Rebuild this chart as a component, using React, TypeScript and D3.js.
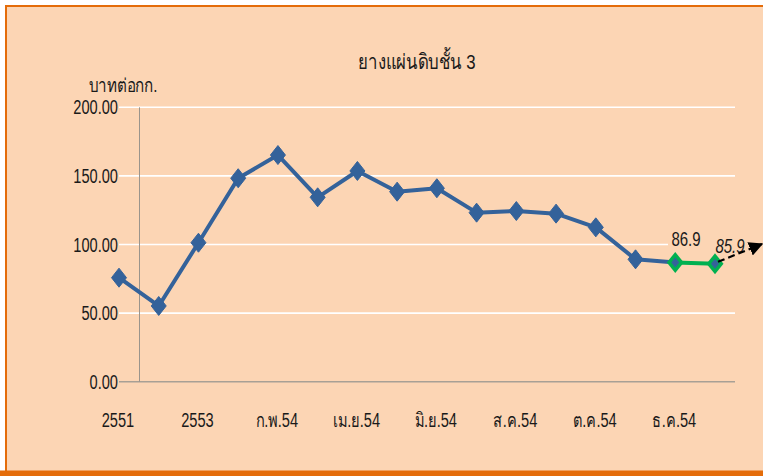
import React from "react";
import * as d3 from "d3";

const title = "ยางแผ่นดิบชั้น 3";
const yUnit = "บาทต่อกก.";
const categories = [
  "2551", "2552", "2553", "ม.ค.54", "ก.พ.54", "มี.ค.54", "เม.ย.54", "พ.ค.54",
  "มิ.ย.54", "ก.ค.54", "ส.ค.54", "ก.ย.54", "ต.ค.54", "พ.ย.54", "ธ.ค.54", "ม.ค.55",
];
const shownLabels = ["2551", "2553", "ก.พ.54", "เม.ย.54", "มิ.ย.54", "ส.ค.54", "ต.ค.54", "ธ.ค.54"];
const prices = [75.8, 55.2, 101.3, 148.3, 165.2, 134.4, 153.6, 138.5, 141.0, 123.2, 124.4, 122.5, 112.5, 89.2, 86.9, 85.9];
const highlightFrom = 14; // last two points in green
const yTicks = [0, 50, 100, 150, 200];

const W = 763;
const H = 476;
const BG = "#fcd5b4";
const ORANGE = "#e46c0a";
const BLUE = "#34629a";
const GREEN = "#00b050";
const FONT = "'Liberation Sans', Arial, sans-serif";
const SX = 0.75;

function NText(props: {
  x: number;
  y: number;
  anchor?: string;
  size: number;
  italic?: boolean;
  sx?: number;
  children: React.ReactNode;
}) {
  const s = props.sx ?? SX;
  return (
    <g transform={`translate(${props.x},${props.y}) scale(${s},1)`}>
      <text
        x={0}
        y={0}
        textAnchor={props.anchor ?? "start"}
        fontSize={props.size}
        fontStyle={props.italic ? "italic" : "normal"}
        fill="#1a1a1a"
      >
        {props.children}
      </text>
    </g>
  );
}

export default function App() {
  const x = d3.scalePoint<number>().domain(d3.range(categories.length)).range([119, 715]);
  const y = d3.scaleLinear().domain([0, 200]).range([381.7, 107.3]);
  const plotLeft = 119;
  const plotRight = 735;
  const axisX = 139.5;

  const line = d3
    .line<number>()
    .x((_, i) => x(i) as number)
    .y((d) => y(d));

  const bluePts = prices.slice(0, highlightFrom + 1);
  const greenPts = prices.slice(highlightFrom);

  const diamond = (cx: number, cy: number, w: number, h: number) =>
    `M${cx},${cy - h / 2}L${cx + w / 2},${cy}L${cx},${cy + h / 2}L${cx - w / 2},${cy}Z`;

  const lastI = prices.length - 1;
  const lx = x(lastI) as number;
  const ly = y(prices[lastI]);

  return (
    <svg
      width={W}
      height={H}
      style={{ position: "fixed", left: 0, top: 0, display: "block" }}
      fontFamily={FONT}
    >
      <defs>
        <marker id="arrow" viewBox="0 0 10 10" refX="9" refY="5" markerWidth="6.5" markerHeight="6.5" orient="auto">
          <path d="M0,0L10,5L0,10Z" fill="#000" />
        </marker>
      </defs>
      <rect x={0} y={0} width={W} height={H} fill="#fff" />
      <rect x={5} y={5} width={W - 5} height={H - 5} fill={BG} />
      <rect x={5} y={5} width={W - 5} height={2} fill={ORANGE} />
      <rect x={5} y={5} width={2} height={H - 5} fill={ORANGE} />
      <rect x={0} y={470.5} width={W} height={H - 470.5} fill={ORANGE} />

      {/* gridlines */}
      {yTicks.filter((t) => t > 0).map((t) => (
        <line key={t} x1={plotLeft} x2={plotRight} y1={y(t)} y2={y(t)} stroke="#fff" strokeWidth={1.6} />
      ))}
      {/* axes */}
      <line x1={plotLeft} x2={plotRight} y1={y(0)} y2={y(0)} stroke="#a8a095" strokeWidth={1.5} />
      <line x1={axisX} x2={axisX} y1={y(200)} y2={y(0)} stroke="#9a948c" strokeWidth={1} />

      {/* y tick labels */}
      {yTicks.map((t) => (
        <NText key={t} x={118} y={y(t) + 7} anchor="end" size={19.5}>
          {d3.format(".2f")(t)}
        </NText>
      ))}
      {/* x labels */}
      {categories.map((c, i) =>
        shownLabels.includes(c) ? (
          <NText key={c} x={(x(i) as number) - 1} y={427} anchor="middle" size={19.5}>
            {c}
          </NText>
        ) : null
      )}

      {/* title & unit */}
      <NText x={417} y={69} anchor="middle" size={21} sx={0.8}>{title}</NText>
      <NText x={123} y={92} anchor="middle" size={19} sx={0.8}>{yUnit}</NText>

      {/* data label background boxes */}
      <rect x={668} y={230} width={38} height={20} fill={BG} />
      <rect x={704} y={236} width={46} height={20} fill={BG} />

      {/* lines */}
      <path d={line(bluePts) as string} fill="none" stroke={BLUE} strokeWidth={4} strokeLinejoin="round" />
      <path
        d={d3.line<number>().x((_, i) => x(i + highlightFrom) as number).y((d) => y(d))(greenPts) as string}
        fill="none"
        stroke={GREEN}
        strokeWidth={4}
      />
      {/* markers */}
      {prices.map((v, i) =>
        i < highlightFrom ? (
          <path key={i} d={diamond(x(i) as number, y(v), 15, 19)} fill={BLUE} stroke={BLUE} strokeWidth={1} />
        ) : (
          <g key={i}>
            <path d={diamond(x(i) as number, y(v), 17, 21)} fill={GREEN} />
            <path d={diamond(x(i) as number, y(v), 8, 10)} fill={BLUE} />
          </g>
        )
      )}

      {/* data labels */}
      <NText x={686} y={246} anchor="middle" size={20}>
        {prices[highlightFrom]}
      </NText>
      <NText x={730} y={253} anchor="middle" size={20} italic>
        {prices[lastI]}
      </NText>

      {/* dashed arrow */}
      <line
        x1={lx + 3}
        y1={ly - 2}
        x2={762}
        y2={244}
        stroke="#000"
        strokeWidth={2.2}
        strokeDasharray="7,4"
        markerEnd="url(#arrow)"
      />
    </svg>
  );
}
